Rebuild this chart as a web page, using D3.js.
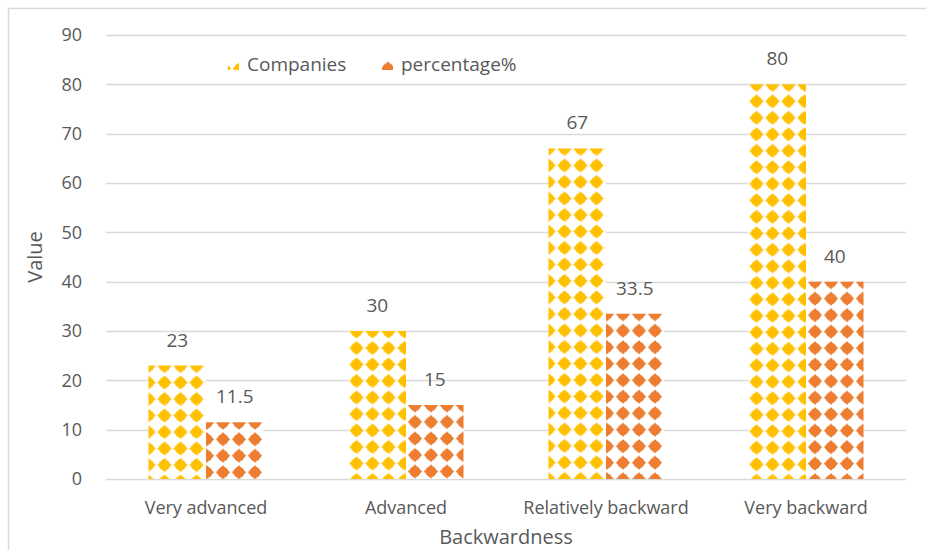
<!DOCTYPE html>
<html>
<head>
<meta charset="utf-8">
<script src="https://cdn.jsdelivr.net/npm/d3@7"></script>
<style>
  body { margin: 0; background: #fff; }
  text { font-family: "Open Sans", sans-serif; fill: #595959; }
</style>
</head>
<body>
<svg id="chart"></svg>
<script>
const CATEGORIES = ["Very advanced", "Advanced", "Relatively backward", "Very backward"];
const SERIES = ["Companies", "percentage%"];
const COMPANIES = [23, 30, 67, 80];
const PERCENTAGE = [11.5, 15, 33.5, 40];
const Y_TICKS = [0, 10, 20, 30, 40, 50, 60, 70, 80, 90];

const WIDTH = 926;
const HEIGHT = 550;
const PLOT = { left: 106, right: 906, top: 35, bottom: 479 };
const COLOURS = { "Companies": "#FFC000", "percentage%": "#ED7D31" };
const DX = 16, DY = 16.5;

let rows = CATEGORIES.map(function (c, i) {
    return { cat: c, values: [
        { key: "Companies", v: COMPANIES[i], i: i },
        { key: "percentage%", v: PERCENTAGE[i], i: i }
    ] };
});

let svg = d3.select("#chart")
    .attr("width", WIDTH)
    .attr("height", HEIGHT);

let defs = svg.append("defs");

// diamond pattern anchored at (ox, oy): first diamond centre sits there
function makePattern(id, colour, ox, oy) {
    let p = defs.append("pattern")
        .attr("id", id)
        .attr("patternUnits", "userSpaceOnUse")
        .attr("x", ox - DX / 2)
        .attr("y", oy - DY / 2)
        .attr("width", DX)
        .attr("height", DY);
    p.append("rect").attr("width", DX).attr("height", DY).attr("fill", "#fff");
    let cx = DX / 2, cy = DY / 2, r = 7.1;
    p.append("path")
        .attr("d", "M" + cx + "," + (cy - r) + "L" + (cx + r) + "," + cy +
            "L" + cx + "," + (cy + r) + "L" + (cx - r) + "," + cy + "Z")
        .attr("fill", colour);
    p.append("circle").attr("cx", cx).attr("cy", cy).attr("r", 5.4).attr("fill", colour);
}

// chart border
svg.append("rect")
    .attr("x", 8.5).attr("y", 8.5)
    .attr("width", 1000).attr("height", 1000)
    .attr("fill", "none")
    .attr("stroke", "#d9d9d9")
    .attr("stroke-width", 1.5);

let x0 = d3.scaleBand()
    .domain(CATEGORIES)
    .range([PLOT.left, PLOT.right])
    .padding(0);

let x1 = d3.scaleBand()
    .domain(SERIES)
    .range([0, x0.bandwidth()])
    .paddingInner(0)
    .paddingOuter(0.739);

let y = d3.scaleLinear()
    .domain([0, 90])
    .range([PLOT.bottom, PLOT.top]);

// gridlines
svg.append("g")
    .selectAll("line")
    .data(Y_TICKS)
    .enter()
    .append("line")
    .attr("x1", PLOT.left)
    .attr("x2", PLOT.right)
    .attr("y1", function (d) { return Math.round(y(d)) + 0.5; })
    .attr("y2", function (d) { return Math.round(y(d)) + 0.5; })
    .attr("stroke", "#d9d9d9")
    .attr("stroke-width", 1.5);

// y axis labels
let yAxis = svg.append("g")
    .attr("transform", "translate(" + (PLOT.left - 24) + ",0)")
    .call(d3.axisLeft(y).tickValues(Y_TICKS).tickSize(0).tickPadding(0));
yAxis.select(".domain").remove();
yAxis.selectAll("text")
    .attr("font-size", "18px")
    .attr("font-family", "'Open Sans', sans-serif")
    .attr("fill", "#595959");

// x axis labels
let xAxis = svg.append("g")
    .attr("transform", "translate(0," + PLOT.bottom + ")")
    .call(d3.axisBottom(x0).tickSize(0).tickPadding(22));
xAxis.select(".domain").remove();
xAxis.selectAll("text")
    .attr("font-size", "18px")
    .attr("font-family", "'Open Sans', sans-serif")
    .attr("fill", "#595959");

// one pattern per bar, anchored to the bar's top-left corner
rows.forEach(function (r) {
    r.values.forEach(function (d) {
        let left = x0(r.cat) + x1(d.key);
        makePattern("pat-" + d.key.replace("%", "") + "-" + d.i, COLOURS[d.key],
            left + (d.key === "Companies" ? 6 : 7), y(d.v) + 0.5);
    });
});

// bars
let groups = svg.append("g")
    .selectAll("g")
    .data(rows)
    .enter()
    .append("g")
    .attr("transform", function (d) { return "translate(" + x0(d.cat) + ",0)"; });

groups.selectAll("rect")
    .data(function (d) { return d.values; })
    .enter()
    .append("rect")
    .attr("x", function (d) { return x1(d.key); })
    .attr("y", function (d) { return y(d.v); })
    .attr("width", x1.bandwidth())
    .attr("height", function (d) { return y(0) - y(d.v); })
    .attr("fill", function (d) { return "url(#pat-" + d.key.replace("%", "") + "-" + d.i + ")"; });

groups.selectAll("text.lbl")
    .data(function (d) { return d.values; })
    .enter()
    .append("text")
    .attr("class", "lbl")
    .text(function (d) { return d.v; })
    .attr("x", function (d) { return x1(d.key) + x1.bandwidth() / 2; })
    .attr("y", function (d) { return y(d.v) - 19; })
    .attr("text-anchor", "middle")
    .attr("font-size", "19px")
    .attr("fill", "#404040");

// legend
let legendX = [228, 382];
SERIES.forEach(function (s, i) {
    makePattern("leg-" + i, COLOURS[s], legendX[i] + 8, 59);
});
let legend = svg.append("g")
    .selectAll("g")
    .data(SERIES)
    .enter()
    .append("g")
    .attr("transform", function (d, i) { return "translate(" + legendX[i] + ",59)"; });
legend.append("rect")
    .attr("width", 11)
    .attr("height", 11)
    .attr("fill", function (d, i) { return "url(#leg-" + i + ")"; });
legend.append("text")
    .text(function (d) { return d; })
    .attr("x", 19)
    .attr("y", 12)
    .attr("font-size", "19px");

// axis titles
svg.append("text")
    .text("Backwardness")
    .attr("x", (PLOT.left + PLOT.right) / 2)
    .attr("y", 544)
    .attr("text-anchor", "middle")
    .attr("font-size", "20px");

svg.append("text")
    .text("Value")
    .attr("transform", "translate(42," + ((PLOT.top + PLOT.bottom) / 2) + ") rotate(-90)")
    .attr("text-anchor", "middle")
    .attr("font-size", "20px");
</script>
</body>
</html>
